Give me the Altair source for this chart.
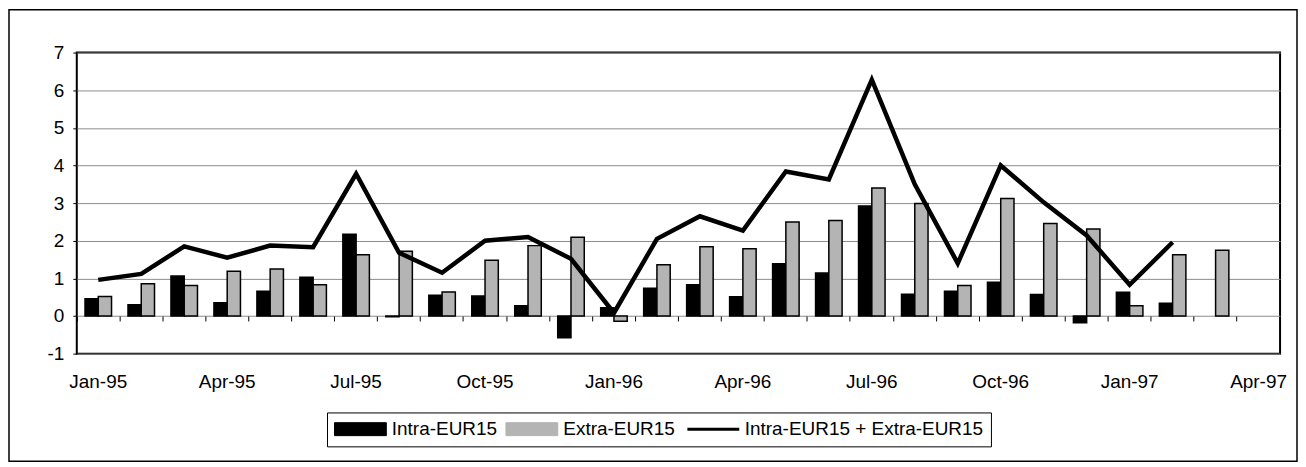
import altair as alt
import pandas as pd

months = ["Jan-95", "Feb-95", "Mar-95", "Apr-95", "May-95", "Jun-95", "Jul-95",
          "Aug-95", "Sep-95", "Oct-95", "Nov-95", "Dec-95", "Jan-96", "Feb-96",
          "Mar-96", "Apr-96", "May-96", "Jun-96", "Jul-96", "Aug-96", "Sep-96",
          "Oct-96", "Nov-96", "Dec-96", "Jan-97", "Feb-97", "Mar-97", "Apr-97"]
intra = [0.46, 0.30, 1.06, 0.35, 0.66, 1.03, 2.17, -0.02, 0.55, 0.53, 0.27, -0.58,
         0.22, 0.74, 0.83, 0.51, 1.39, 1.14, 2.92, 0.58, 0.66, 0.90, 0.57, -0.18,
         0.63, 0.34, None, None]
extra = [0.52, 0.86, 0.81, 1.19, 1.25, 0.83, 1.63, 1.72, 0.64, 1.48, 1.87, 2.09,
         -0.14, 1.36, 1.84, 1.79, 2.50, 2.54, 3.40, 2.99, 0.81, 3.12, 2.46, 2.31,
         0.27, 1.63, 1.75, None]
total = [0.96, 1.12, 1.85, 1.55, 1.87, 1.83, 3.78, 1.68, 1.15, 2.00, 2.10, 1.52,
         0.08, 2.05, 2.65, 2.27, 3.84, 3.63, 6.28, 3.50, 1.40, 4.00, 3.02, 2.14,
         0.83, 1.96, None, None]
y_ticks = [-1, 0, 1, 2, 3, 4, 5, 6, 7]

S_INTRA = "Intra-EUR15"
S_EXTRA = "Extra-EUR15"
S_TOT = "Intra-EUR15 + Extra-EUR15"
series_names = [S_INTRA, S_EXTRA, S_TOT]
series_colors = ["black", "#b4b4b4", "black"]

rows = []
for m, a, b in zip(months, intra, extra):
    if a is not None:
        rows.append({"month": m, "series": S_INTRA, "value": a})
    if b is not None:
        rows.append({"month": m, "series": S_EXTRA, "value": b})
bars_df = pd.DataFrame(rows)
line_df = pd.DataFrame([{"month": m, "series": S_TOT, "value": t}
                        for m, t in zip(months, total) if t is not None])
label_months = [m for m in months if m[:3] in ("Jan", "Apr", "Jul", "Oct")]

FONT = "Arial"
FS = 19
W, H = 1207, 302

xscale = alt.Scale(domain=months, paddingInner=0, paddingOuter=0)
yscale = alt.Scale(domain=[-1, 7], nice=False)
yaxis = alt.Axis(values=y_ticks, title=None, tickSize=4, tickColor="black",
                 domain=False, grid=True, gridColor="#8c8c8c", gridWidth=1,
                 labelPadding=9, labelFontSize=FS, labelFont=FONT,
                 labelColor="black",
                 labelExpr="datum.value < 0 ? '-' + abs(datum.value) : '' + datum.value")

sym_shape = ("datum.value === '" + S_TOT + "' ? 'M-1,0H1' : 'M-1,-0.25H1V0.25H-1Z'")
sym_sw = "datum.value === '" + S_TOT + "' ? 3 : 1"

legend = alt.Legend(
    title=None, orient="none", legendX=251, legendY=361, direction="horizontal",
    symbolSize=2704, labelFontSize=FS, labelFont=FONT, labelColor="black",
    symbolOffset=17, labelOffset=22, labelLimit=400, columnPadding=6, padding=7,
    strokeColor="black", fillColor="white", symbolStrokeColor="black", symbolOpacity=1,
    symbolType=alt.ExprRef(expr=sym_shape),
    symbolStrokeWidth=alt.ExprRef(expr=sym_sw),
)
color = alt.Color("series:N", scale=alt.Scale(domain=series_names, range=series_colors),
                  legend=legend)

frame = alt.Chart(pd.DataFrame({"a": [0]})).mark_rect(
    fillOpacity=0, stroke="black", strokeWidth=1.5
).encode(x=alt.value(-68), x2=alt.value(1224), y=alt.value(-43), y2=alt.value(410))

bars = alt.Chart(bars_df).mark_bar(stroke="black", strokeWidth=1.5).encode(
    x=alt.X("month:N", scale=xscale,
            axis=alt.Axis(orient="bottom", values=label_months, ticks=False, tickSize=0,
                          domain=False, labelAngle=0, labelPadding=19, title=None,
                          grid=False, labelFontSize=FS, labelFont=FONT,
                          labelColor="black")),
    xOffset=alt.XOffset("series:N", scale=alt.Scale(domain=[S_INTRA, S_EXTRA],
                                                    paddingOuter=0.62, paddingInner=0)),
    y=alt.Y("value:Q", scale=yscale, axis=yaxis),
    color=color,
)

line = alt.Chart(line_df).mark_line(strokeWidth=4.5).encode(
    x=alt.X("month:N", scale=xscale,
            axis=alt.Axis(orient="bottom", labels=False, ticks=True, tickSize=5,
                          bandPosition=0, domain=False, offset=-37.75, title=None,
                          grid=False, tickColor="black")),
    y=alt.Y("value:Q", scale=yscale, axis=yaxis),
    color=color,
)

chart = alt.layer(frame, bars, line).resolve_axis(x="independent").properties(
    width=W, height=H, padding=0, background="white"
).configure_view(stroke="black", strokeWidth=2)

chart.save("out.html", embed_options={"renderer": "svg", "actions": False})
